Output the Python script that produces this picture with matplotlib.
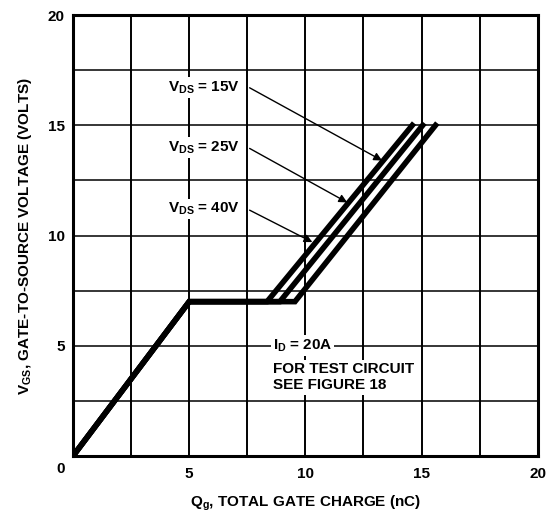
import matplotlib
matplotlib.use('Agg')
import matplotlib.pyplot as plt

plt.rcParams['font.family'] = ['Liberation Sans', 'DejaVu Sans']
plt.rcParams['font.weight'] = 'bold'
plt.rcParams['mathtext.default'] = 'regular'

# ==========================================
# DATA
# ==========================================
vds_labels = ['15V', '25V', '40V']
# shared rising part and plateau, then each curve leaves the plateau
qg_rise = [0.0, 5.0]
vgs_rise = [0.0, 7.0]
plateau_end = [8.35, 8.9, 9.55]
qg_top = [14.6, 15.05, 15.6]
vgs_plateau = 7.0
vgs_top = 15.0

# label positions and arrow targets (data units)
label_xy = [(4.1, 16.7), (4.1, 14.0), (4.1, 11.2)]
arrow_start = [(7.6, 16.7), (7.6, 13.95), (7.6, 11.15)]
arrow_end = [(13.3, 13.4), (11.8, 11.5), (10.3, 9.7)]

x_ticks = [5, 10, 15, 20]
y_ticks = [5, 10, 15, 20]

fig = plt.figure(figsize=(5.51, 5.18), dpi=100)
ax = fig.add_axes([0.1325, 0.1197, 0.8435, 0.8513])

ax.set_xlim(0, 20)
ax.set_ylim(0, 20)

# grid every 2.5
for g in [2.5 * i for i in range(1, 8)]:
    ax.axvline(g, color='black', lw=1.4, zorder=1)
    ax.axhline(g, color='black', lw=1.1, zorder=1)

for s in ax.spines.values():
    s.set_linewidth(2.2)

# curves
for pe, qt in zip(plateau_end, qg_top):
    ax.plot(qg_rise + [pe, qt], vgs_rise + [vgs_plateau, vgs_top],
            color='black', lw=4.0, solid_joinstyle='miter', zorder=3)

txt_kw = dict(fontsize=11, fontweight='bold', va='center', ha='left',
              bbox=dict(facecolor='white', edgecolor='none', pad=1.5), zorder=4)

for lab, (lx, ly), st, en in zip(vds_labels, label_xy, arrow_start, arrow_end):
    ax.text(lx, ly, r'V$_{DS}$ = ' + lab, **txt_kw)
    ax.annotate('', xy=en, xytext=st,
                arrowprops=dict(arrowstyle='-|>', color='black', lw=1.0,
                                mutation_scale=12, shrinkA=0, shrinkB=0),
                zorder=4)

ax.text(8.6, 5.0, r'I$_{D}$ = 20A', **txt_kw)
ax.text(8.6, 3.95, 'FOR TEST CIRCUIT', **txt_kw)
ax.text(8.6, 3.2, 'SEE FIGURE 18', **txt_kw)

ax.set_xticks(x_ticks)
ax.set_yticks(y_ticks)
ax.tick_params(axis='x', length=0, labelsize=11, pad=8)
ax.tick_params(axis='y', length=0, labelsize=11, pad=6)
for t in ax.get_xticklabels() + ax.get_yticklabels():
    t.set_fontweight('bold')
ax.text(-0.55, -0.6, '0', fontsize=11, fontweight='bold', ha='center', va='center')

ax.set_xlabel(r'Q$_{g}$, TOTAL GATE CHARGE (nC)', fontsize=11,
              fontweight='bold', labelpad=9)
ax.set_ylabel(r'V$_{GS}$, GATE-TO-SOURCE VOLTAGE (VOLTS)', fontsize=11,
              fontweight='bold', labelpad=10)

fig.savefig('out.png', dpi=100)
